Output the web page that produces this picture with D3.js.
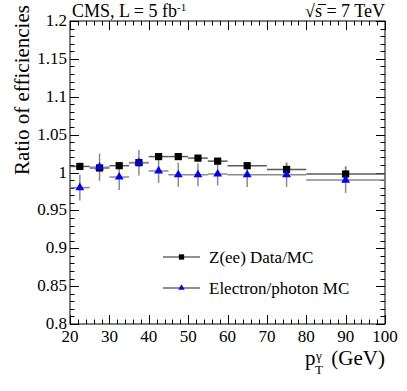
<!DOCTYPE html>
<html>
<head>
<meta charset="utf-8">
<script src="https://cdn.jsdelivr.net/npm/d3@7"></script>
<style>
  body { margin: 0; background: #fff; }
  text { font-family: "Liberation Serif", "Times New Roman", serif; fill: #000; }
</style>
</head>
<body>
<div id="chart"></div>
<script>
// bins in photon pT (GeV)
var ptLow  = [20, 25, 30, 35, 40, 45, 50, 55, 60, 70, 80];
var ptHigh = [25, 30, 35, 40, 45, 50, 55, 60, 70, 80, 100];
var ptCenter = [22.5, 27.5, 32.5, 37.5, 42.5, 47.5, 52.5, 57.5, 65, 75, 90];

// Z(ee) Data/MC
var zeeRatio = [1.008, 1.006, 1.009, 1.013, 1.021, 1.021, 1.019, 1.015, 1.009, 1.004, 0.998];
var zeeErr   = [0.004, 0.004, 0.004, 0.005, 0.004, 0.004, 0.004, 0.004, 0.005, 0.009, 0.010];

// Electron/photon MC
var egRatio = [0.980, 1.007, 0.994, 1.013, 1.002, 0.997, 0.997, 0.998, 0.997, 0.997, 0.990];
var egErr   = [0.017, 0.018, 0.017, 0.017, 0.016, 0.016, 0.015, 0.015, 0.016, 0.016, 0.017];

var xTicks = [20, 30, 40, 50, 60, 70, 80, 90, 100];
var yTicks = [0.8, 0.85, 0.9, 0.95, 1, 1.05, 1.1, 1.15, 1.2];
var legendLabels = ["Z(ee) Data/MC", "Electron/photon MC"];

var W = 407, H = 391;
var margin = {left: 70, right: 22, top: 21, bottom: 67};

var svg = d3.select("#chart").append("svg")
    .attr("width", W).attr("height", H);

var x = d3.scaleLinear().domain([20, 100]).range([margin.left, W - margin.right]);
var y = d3.scaleLinear().domain([0.8, 1.2]).range([H - margin.bottom, margin.top]);

var x0 = x.range()[0], x1 = x.range()[1], y0 = y.range()[0], y1 = y.range()[1];

// frame
svg.append("rect")
    .attr("x", x0).attr("y", y1)
    .attr("width", x1 - x0).attr("height", y0 - y1)
    .attr("fill", "none").attr("stroke", "#000").attr("stroke-width", 1);

////////////// ticks (ROOT style, on all four sides)
var g = svg.append("g").attr("stroke", "#000").attr("stroke-width", 1);
d3.range(20, 100.001, 2).forEach(function(v) {
    var major = Math.abs(v % 10) < 1e-6;
    var len = major ? 9 : 4.5;
    var px = Math.round(x(v)) + 0.5;
    g.append("line").attr("x1", px).attr("x2", px).attr("y1", y0).attr("y2", y0 - len);
    g.append("line").attr("x1", px).attr("x2", px).attr("y1", y1).attr("y2", y1 + len);
});
d3.range(0, 41).forEach(function(i) {
    var v = 0.8 + i * 0.01;
    var major = i % 5 == 0;
    var len = major ? 9 : 4.5;
    var py = Math.round(y(v)) + 0.5;
    g.append("line").attr("x1", x0).attr("x2", x0 + len).attr("y1", py).attr("y2", py);
    g.append("line").attr("x1", x1).attr("x2", x1 - len).attr("y1", py).attr("y2", py);
});

// tick labels
svg.selectAll(".xl").data(xTicks).enter().append("text")
    .attr("class", "xl")
    .attr("x", function(d) { return x(d); })
    .attr("y", y0 + 18)
    .attr("text-anchor", "middle")
    .attr("font-size", 17)
    .text(function(d) { return d; });

svg.selectAll(".yl").data(yTicks).enter().append("text")
    .attr("class", "yl")
    .attr("x", x0 - 3)
    .attr("y", function(d) { return y(d) + 5; })
    .attr("text-anchor", "end")
    .attr("font-size", 17)
    .text(function(d) { return d; });

// axis titles
svg.append("text")
    .attr("transform", "translate(29,90) rotate(-90)")
    .attr("text-anchor", "middle")
    .attr("font-size", 21)
    .text("Ratio of efficiencies");

var xt = svg.append("g").attr("font-size", 21);
xt.append("text").attr("x", 305).attr("y", 365).text("p");
xt.append("text").attr("x", 316).attr("y", 360).attr("font-size", 13).text("γ");
xt.append("text").attr("x", 315).attr("y", 374).attr("font-size", 13).text("T");
xt.append("text").attr("x", x1).attr("y", 365).attr("text-anchor", "end").text("(GeV)");

// header
var hl = svg.append("text").attr("x", 72).attr("y", 17).attr("font-size", 18);
hl.append("tspan").text("CMS, L = 5 fb");
hl.append("tspan").attr("font-size", 11).attr("dy", -6).text("-1");

svg.append("text").attr("x", x1).attr("y", 17).attr("font-size", 18)
    .attr("text-anchor", "end").text("√s = 7 TeV");
svg.append("line").attr("x1", 318).attr("x2", 326).attr("y1", 4.5).attr("y2", 4.5)
    .attr("stroke", "#000").attr("stroke-width", 1);

////////////// error bars
function drawErrors(vals, errs, col) {
    var eg = svg.append("g").attr("stroke", col).attr("stroke-width", 1.5);
    vals.forEach(function(v, i) {
        eg.append("line")
            .attr("x1", x(ptLow[i])).attr("x2", x(ptHigh[i]))
            .attr("y1", y(v)).attr("y2", y(v));
        eg.append("line")
            .attr("x1", x(ptCenter[i])).attr("x2", x(ptCenter[i]))
            .attr("y1", y(v - errs[i])).attr("y2", y(v + errs[i]));
    });
}
drawErrors(zeeRatio, zeeErr, "#5a5a5a");
drawErrors(egRatio, egErr, "#8a8a8a");

// markers
var sq = d3.symbol().type(d3.symbolSquare).size(52);
var tri = d3.symbol().type(d3.symbolTriangle).size(34);

svg.selectAll(".zee").data(zeeRatio).enter().append("path")
    .attr("class", "zee")
    .attr("d", sq)
    .attr("transform", function(d, i) { return "translate(" + x(ptCenter[i]) + "," + y(d) + ")"; })
    .attr("fill", "#000");

svg.selectAll(".eg").data(egRatio).enter().append("path")
    .attr("class", "eg")
    .attr("d", tri)
    .attr("transform", function(d, i) { return "translate(" + x(ptCenter[i]) + "," + y(d) + ")"; })
    .attr("fill", "#0000ff");

////////////// legend
var legY = [257, 288];
var leg = svg.selectAll(".leg").data(legendLabels).enter().append("g")
    .attr("transform", function(d, i) { return "translate(163," + legY[i] + ")"; });
leg.append("line").attr("x1", 0).attr("x2", 37).attr("y1", 0).attr("y2", 0)
    .attr("stroke", "#222").attr("stroke-width", 1.2);
leg.append("path")
    .attr("d", function(d, i) { return i == 0 ? d3.symbol().type(d3.symbolSquare).size(28)() : d3.symbol().type(d3.symbolTriangle).size(18)(); })
    .attr("transform", "translate(18.5,0)")
    .attr("fill", function(d, i) { return i == 0 ? "#000" : "#0000ff"; });
leg.append("text").attr("x", 46).attr("y", 6).attr("font-size", 17)
    .text(function(d) { return d; });
</script>
</body>
</html>
